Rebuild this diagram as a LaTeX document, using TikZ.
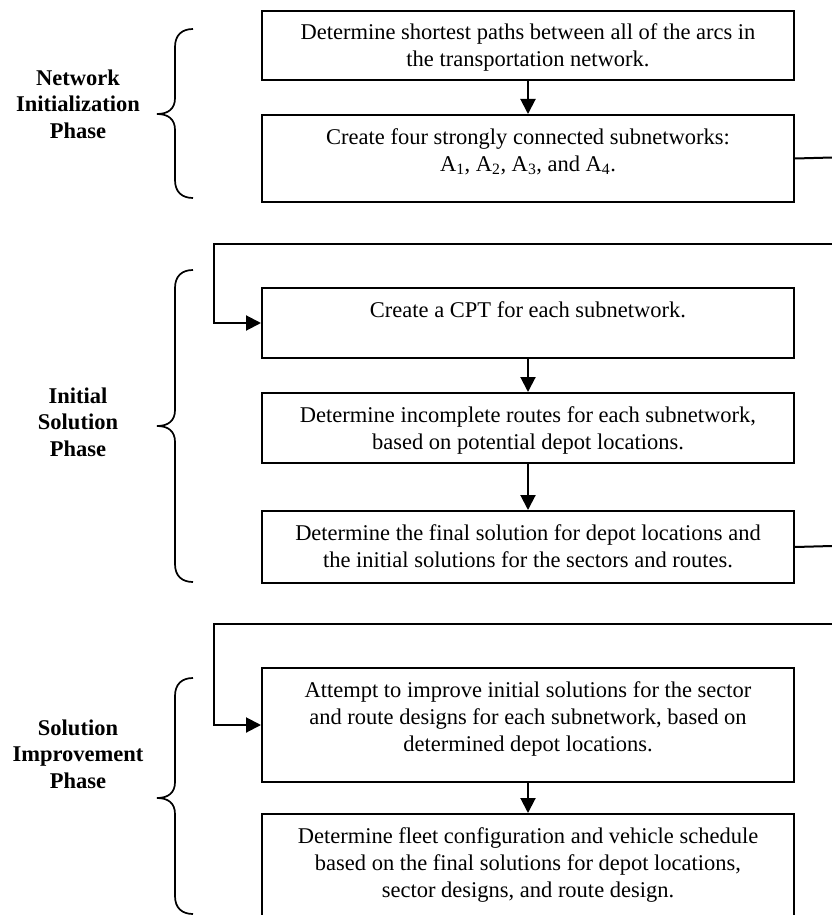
\documentclass[tikz,border=0pt]{standalone}
\usepackage{fontspec}
\setmainfont{Liberation Serif}
\usetikzlibrary{arrows.meta}

\tikzset{
  stepbox/.style={draw, line width=2pt, inner sep=0pt, anchor=north},
  phase/.style={font=\fontsize{22.5}{26.5}\selectfont\bfseries, align=center},
  flow/.style={line width=2pt, -{Triangle[length=15pt,width=15pt]}},
  link/.style={line width=2pt},
  brace/.style={line width=1.7pt},
}

% box contents: fixed height, top aligned, centred lines
\newcommand{\stagetext}[2]{\parbox[c][#1][t]{532pt}{\centering\fontsize{22.5}{27}\selectfont\rule{0pt}{29pt}#2}}

% curly brace opening to the right: top end, tip, bottom end
\newcommand{\phasebrace}[3]{%
  \draw[brace] (193,#1) .. controls (182,#1) and (175,#1+6) .. (175,#1+18)
    -- (175,#2-16) .. controls (175,#2-5) and (168,#2) .. (157,#2)
    .. controls (168,#2) and (175,#2+5) .. (175,#2+16)
    -- (175,#3-18) .. controls (175,#3-6) and (182,#3) .. (193,#3);}

\begin{document}
\begin{tikzpicture}[x=1pt,y=-1pt]
\clip (0,0) rectangle (832,915);

% phase labels and braces
\node[phase] (p1) at (78,104) {Network\\Initialization\\Phase};
\node[phase] (p2) at (78,422) {Initial\\Solution\\Phase};
\node[phase] (p3) at (78,754) {Solution\\Improvement\\Phase};
\phasebrace{29}{114}{198}
\phasebrace{270}{426}{582}
\phasebrace{678}{798}{914}

% steps
\node[stepbox] (s1) at (528,10) {\stagetext{69pt}{Determine shortest paths between all of the arcs in\\the transportation network.}};
\node[stepbox] (s2) at (528,114) {\stagetext{87pt}{Create four strongly connected subnetworks:\\A\textsubscript{1}, A\textsubscript{2}, A\textsubscript{3}, and A\textsubscript{4}.}};
\node[stepbox] (s3) at (528,287) {\stagetext{70pt}{Create a CPT for each subnetwork.}};
\node[stepbox] (s4) at (528,392) {\stagetext{70pt}{Determine incomplete routes for each subnetwork,\\based on potential depot locations.}};
\node[stepbox] (s5) at (528,510) {\stagetext{72pt}{Determine the final solution for depot locations and\\the initial solutions for the sectors and routes.}};
\node[stepbox] (s6) at (528,667) {\stagetext{114pt}{Attempt to improve initial solutions for the sector\\and route designs for each subnetwork, based on\\determined depot locations.}};
\node[stepbox] (s7) at (528,813) {\stagetext{114pt}{Determine fleet configuration and vehicle schedule\\based on the final solutions for depot locations,\\sector designs, and route design.}};

% arrows within each phase
\draw[flow] (s1) -- (s2);
\draw[flow] (s3) -- (s4);
\draw[flow] (s4) -- (s5);
\draw[flow] (s6) -- (s7);

% hand-over from one phase to the next
\coordinate (o1) at (832,157.5);
\coordinate (r1) at (832,244);
\coordinate (k1) at (214,244);
\draw[link] (s2.east) -- (o1);
\draw[flow] (r1) -- (k1) |- (s3.west);

\coordinate (o2) at (832,546);
\coordinate (r2) at (832,624);
\coordinate (k2) at (214,624);
\draw[link] (s5.east) -- (o2);
\draw[flow] (r2) -- (k2) |- (s6.west);
\end{tikzpicture}
\end{document}
